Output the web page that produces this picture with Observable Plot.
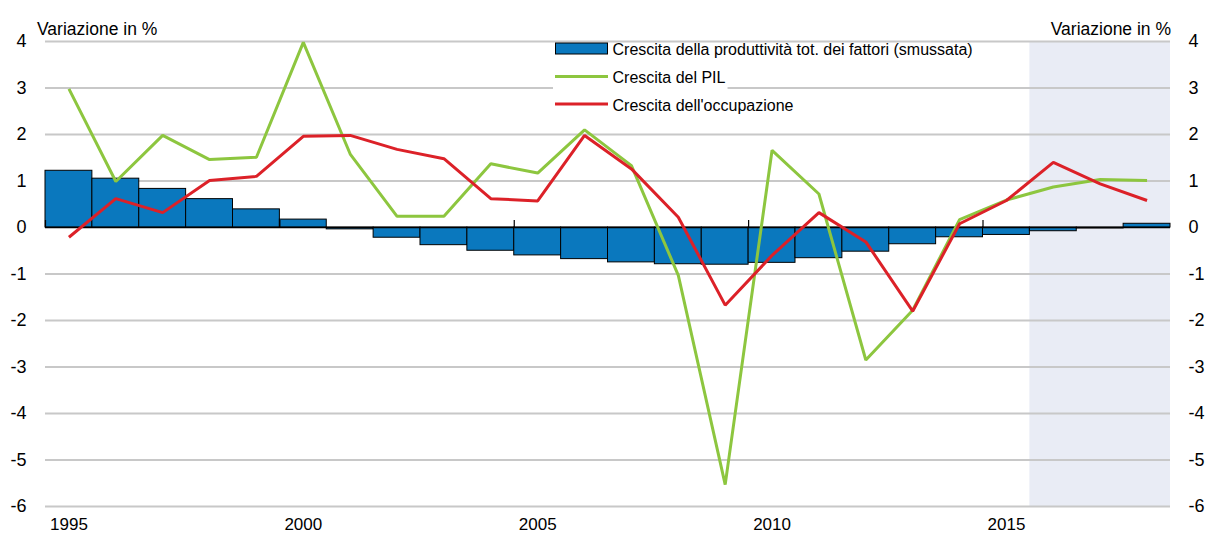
<!DOCTYPE html>
<html>
<head>
<meta charset="utf-8">
<script src="https://cdn.jsdelivr.net/npm/d3@7"></script>
<script src="https://cdn.jsdelivr.net/npm/@observablehq/plot@0.6"></script>
<style>
  html, body { margin: 0; padding: 0; background: #fff; }
  body { font-family: "Liberation Sans", Arial, sans-serif; }
  #chart { width: 1206px; height: 533px; }
</style>
</head>
<body>
<div id="chart"></div>
<script>
// ---- Data ----
const years = [1995,1996,1997,1998,1999,2000,2001,2002,2003,2004,2005,2006,2007,2008,2009,2010,2011,2012,2013,2014,2015,2016,2017,2018];
const tfpGrowth = [1.22,1.05,0.83,0.61,0.39,0.17,-0.04,-0.22,-0.38,-0.50,-0.60,-0.68,-0.75,-0.79,-0.80,-0.76,-0.66,-0.52,-0.36,-0.21,-0.16,-0.08,-0.02,0.08];
const gdpGrowth = [2.98,0.99,1.98,1.46,1.51,3.98,1.58,0.24,0.24,1.37,1.17,2.10,1.33,-1.03,-5.53,1.66,0.72,-2.85,-1.78,0.17,0.59,0.87,1.03,1.01];
const empGrowth = [-0.21,0.62,0.32,1.01,1.10,1.96,1.98,1.68,1.48,0.62,0.57,1.98,1.26,0.22,-1.67,-0.60,0.32,-0.31,-1.80,0.08,0.58,1.40,0.94,0.58];
const yTicks = [-6,-5,-4,-3,-2,-1,0,1,2,3,4];
const gridValues = [-6,-5,-4,-3,-2,-1,1,2,3,4];
const xTicks = [1995,2000,2005,2010,2015];
const dividerYears = [1994.5,1999.5,2004.5,2009.5,2014.5];
const projection = [{start: 2015.5, end: 2018.5}];
const seriesNames = ["Crescita della produttività tot. dei fattori (smussata)", "Crescita del PIL", "Crescita dell'occupazione"];
const axisTitle = "Variazione in %";

const colors = { tfp: "#0a78be", gdp: "#8dc63f", emp: "#dc2128", shade: "#e9ecf5", grid: "#c8c8c8" };

const data = years.map((year, i) => ({ year, tfp: tfpGrowth[i], gdp: gdpGrowth[i], emp: empGrowth[i] }));
const yMin = d3.min(yTicks), yMax = d3.max(yTicks);

const chart = Plot.plot({
  width: 1206,
  height: 533,
  marginLeft: 45,
  marginRight: 36,
  marginTop: 41,
  marginBottom: 27,
  x: { type: "linear", domain: [1994.5, 2018.5], label: null },
  y: { domain: [yMin, yMax], label: null },
  style: { fontFamily: "'Liberation Sans', Arial, sans-serif", fontSize: "18px", color: "#000", background: "#fff", overflow: "visible" },
  marks: [
    Plot.rect(projection, { x1: "start", x2: "end", y1: () => yMin, y2: () => yMax, fill: colors.shade }),
    Plot.ruleY(gridValues, { stroke: colors.grid, strokeWidth: 2 }),
    Plot.rectY(data, { x1: d => d.year - 0.5, x2: d => d.year + 0.5, y: "tfp", fill: colors.tfp, stroke: "#000", strokeWidth: 1 }),
    Plot.ruleY([0], { stroke: "#000", strokeWidth: 1.5 }),
    Plot.ruleX(dividerYears, { y1: 0, y2: 0.15, stroke: "#000", strokeWidth: 1.2 }),
    Plot.line(data, { x: "year", y: "gdp", stroke: colors.gdp, strokeWidth: 3, strokeLinejoin: "miter", strokeLinecap: "butt" }),
    Plot.line(data, { x: "year", y: "emp", stroke: colors.emp, strokeWidth: 3, strokeLinejoin: "miter", strokeLinecap: "butt" }),
    Plot.axisX(xTicks, { tickSize: 0, tickPadding: 11, tickFormat: d => String(d), fontSize: 17 }),
    Plot.axisY(yTicks, { anchor: "left", tickSize: 0, tickPadding: 19, tickFormat: d => String(d) }),
    Plot.axisY(yTicks, { anchor: "right", tickSize: 0, tickPadding: 18, tickFormat: d => String(d) })
  ]
});

document.getElementById("chart").appendChild(chart);

// ---- Axis titles ----
const svg = d3.select(chart);
svg.append("text").attr("x", 37).attr("y", 35).attr("font-size", 17.5).attr("fill", "#000").attr("text-anchor", "start").text(axisTitle);
svg.append("text").attr("x", 1171).attr("y", 35).attr("font-size", 17.5).attr("fill", "#000").attr("text-anchor", "end").text(axisTitle);

// ---- Legend ----
const lg = svg.append("g").attr("font-size", 16).attr("text-anchor", "start");
const rowBase = [55, 83, 110.5];
const kinds = ["bar", "line", "line"];
const swColors = [colors.tfp, colors.gdp, colors.emp];
seriesNames.forEach((name, i) => {
  const row = lg.append("g");
  const bg = row.append("rect").attr("fill", "#fff");
  if (kinds[i] === "bar") {
    row.append("rect").attr("x", 555.5).attr("y", 43).attr("width", 52).attr("height", 11)
      .attr("fill", swColors[i]).attr("stroke", "#000").attr("stroke-width", 1);
  } else {
    row.append("line").attr("x1", 555).attr("x2", 608).attr("y1", rowBase[i] - 6.5).attr("y2", rowBase[i] - 6.5)
      .attr("stroke", swColors[i]).attr("stroke-width", 3);
  }
  const t = row.append("text").attr("x", 612.5).attr("y", rowBase[i]).attr("fill", "#000").attr("text-anchor", "start").text(name);
  const bb = t.node().getBBox();
  if (i > 0) bg.attr("x", 553).attr("y", rowBase[i] - 20).attr("width", bb.x + bb.width - 553 + 2).attr("height", 27);
});
</script>
</body>
</html>
